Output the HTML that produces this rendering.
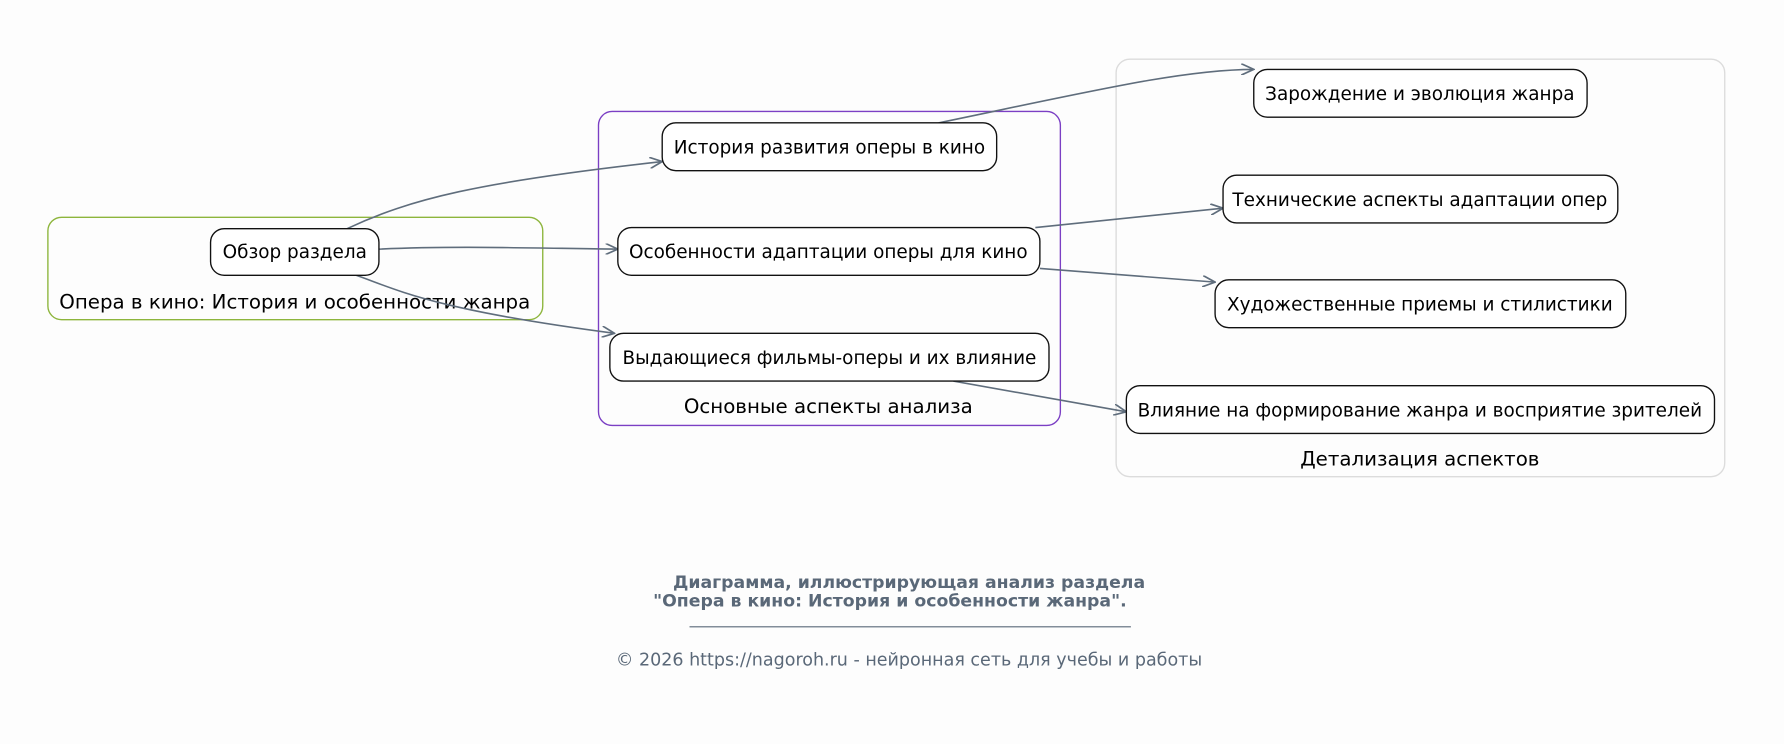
<!DOCTYPE html>
<html><head><meta charset="utf-8"><style>
html,body{margin:0;padding:0;background:#fdfdfd;}
svg{display:block;}
text{font-family:"DejaVu Sans","Liberation Sans",sans-serif;}
</style></head><body>
<svg width="1784" height="744" viewBox="0 0 1568 654" xmlns="http://www.w3.org/2000/svg">
<defs><marker id="a" markerWidth="12" markerHeight="10" refX="11" refY="5" orient="auto" markerUnits="userSpaceOnUse"><path d="M0,0 L11,5 L0,10" fill="none" stroke="#5f6d7c" stroke-width="1.5"/></marker></defs>
<rect width="1568" height="654" fill="#fdfdfd"/>
<rect x="42" y="191" width="435" height="90" rx="12" fill="none" stroke="#8db53c" stroke-width="1.2"/>
<text x="259" y="271" font-size="17.4" text-anchor="middle">Опера в кино: История и особенности жанра</text>
<rect x="526" y="98" width="406" height="276" rx="12" fill="none" stroke="#7b3fc4" stroke-width="1.2"/>
<text x="728" y="363" font-size="17.4" text-anchor="middle">Основные аспекты анализа</text>
<rect x="981" y="52" width="535" height="367" rx="12" fill="none" stroke="#dcdcdc" stroke-width="1.2"/>
<text x="1248" y="409" font-size="17.4" text-anchor="middle">Детализация аспектов</text>
<g fill="none" stroke="#5f6d7c" stroke-width="1.4" marker-end="url(#a)">
<path d="M305,201 C360,175 420,160 582,142"/>
<path d="M333,219 C400,216 460,218 543,219"/>
<path d="M313,242 C350,255 380,272 540,293"/>
<path d="M825,108 C960,80 1040,61 1102,61"/>
<path d="M910,200 L1075,183"/>
<path d="M914,236 L1068,248"/>
<path d="M838,335 L990,362"/>
</g>
<g fill="#fff" stroke="#111" stroke-width="1.2">
<rect x="185" y="201" width="148" height="41" rx="12"/>
<rect x="582" y="108" width="294" height="42" rx="12"/>
<rect x="543" y="200" width="371" height="42" rx="12"/>
<rect x="536" y="293" width="386" height="42" rx="12"/>
<rect x="1102" y="61" width="293" height="42" rx="12"/>
<rect x="1075" y="154" width="347" height="42" rx="12"/>
<rect x="1068" y="246" width="361" height="42" rx="12"/>
<rect x="990" y="339" width="517" height="42" rx="12"/>
</g>
<g font-size="16.2" text-anchor="middle" fill="#000">
<text x="259" y="227">Обзор раздела</text>
<text x="729" y="135">История развития оперы в кино</text>
<text x="728" y="227">Особенности адаптации оперы для кино</text>
<text x="729" y="320">Выдающиеся фильмы-оперы и их влияние</text>
<text x="1248" y="88">Зарождение и эволюция жанра</text>
<text x="1248" y="181">Технические аспекты адаптации опер</text>
<text x="1248" y="273">Художественные приемы и стилистики</text>
<text x="1248" y="366">Влияние на формирование жанра и восприятие зрителей</text>
</g>
<g fill="#5a6878">
<text x="799" y="517" font-size="15.2" font-weight="bold" text-anchor="middle">Диаграмма, иллюстрирующая анализ раздела</text>
<text x="574" y="533" font-size="15.2" font-weight="bold">"Опера в кино: История и особенности жанра".</text>
<line x1="606" y1="551" x2="994" y2="551" stroke="#5a6878" stroke-width="1"/>
<text x="799" y="585" font-size="15.4" text-anchor="middle">© 2026 https://nagoroh.ru - нейронная сеть для учебы и работы</text>
</g>
</svg>
</body></html>
